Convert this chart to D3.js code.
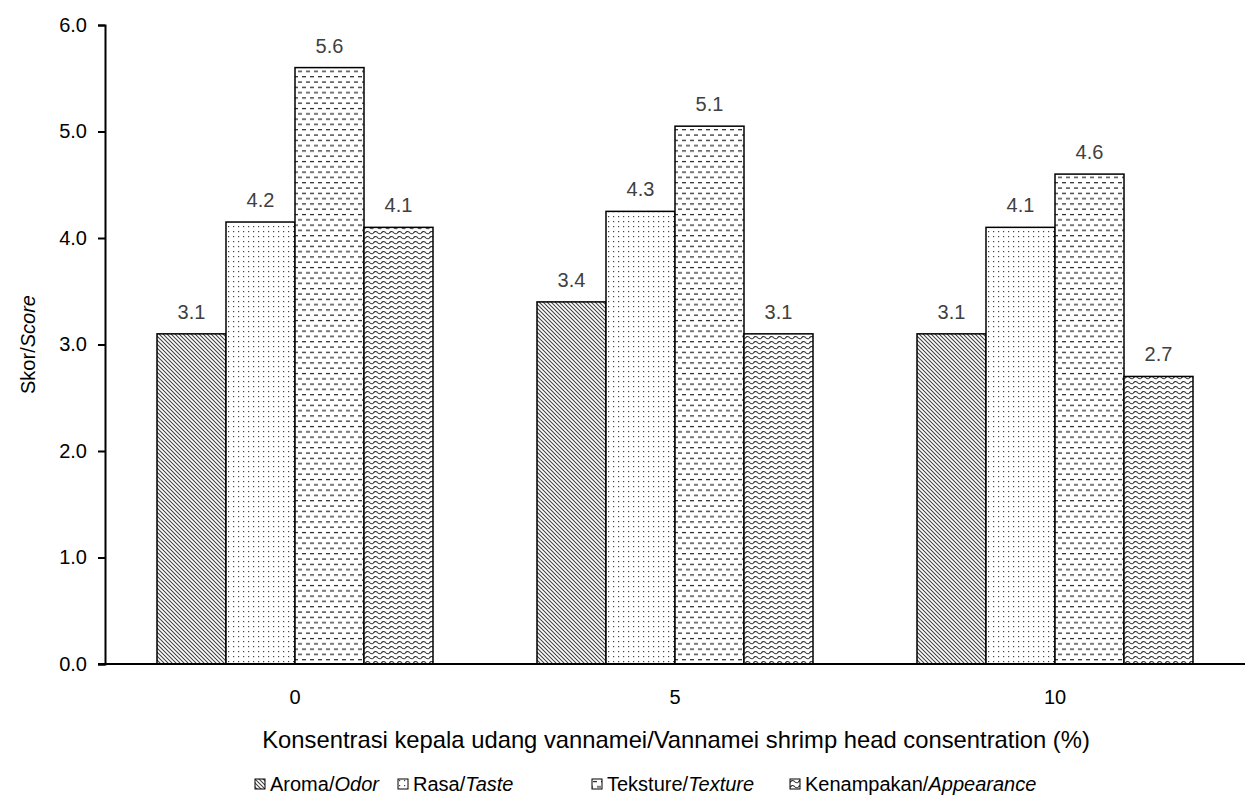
<!DOCTYPE html>
<html><head><meta charset="utf-8">
<script src="https://cdn.jsdelivr.net/npm/d3@7"></script>
<style>
body{margin:0;background:#fff;}
text{font-family:"Liberation Sans",Arial,sans-serif;}
</style></head>
<body><svg id="c" width="1248" height="795"></svg>
<script>
const categories = ["0","5","10"];
const seriesNames = ["Aroma","Rasa","Teksture","Kenampakan"];
const seriesItalic = ["Odor","Taste","Texture","Appearance"];
const aroma = [3.1, 3.4, 3.1];
const rasa = [4.15, 4.25, 4.1];
const tekstur = [5.6, 5.05, 4.6];
const kenampakan = [4.1, 3.1, 2.7];
const yTicks = [0,1,2,3,4,5,6];
const seriesValues = [aroma, rasa, tekstur, kenampakan];

(function(){
const svg = d3.select("#c");
const defs = svg.append("defs");
const FS = 20;

const p1 = defs.append("pattern").attr("id","p0").attr("patternUnits","userSpaceOnUse").attr("width",4).attr("height",4);
p1.append("rect").attr("width",4).attr("height",4).attr("fill","#fff");
p1.append("path").attr("d","M-1,-1 L5,5 M-1,3 L1,5 M3,-1 L5,1").attr("stroke","#444").attr("stroke-width",1.1);

const p2 = defs.append("pattern").attr("id","p1").attr("patternUnits","userSpaceOnUse").attr("width",5).attr("height",5);
p2.append("rect").attr("width",5).attr("height",5).attr("fill","#fff");
p2.append("rect").attr("x",1).attr("y",1).attr("width",1.2).attr("height",1.2).attr("fill","#444");

const p3 = defs.append("pattern").attr("id","p2").attr("patternUnits","userSpaceOnUse").attr("width",8).attr("height",10.6);
p3.append("rect").attr("width",8).attr("height",10.6).attr("fill","#fff");
p3.append("path").attr("d","M1,2.5 L5,2.5 M5,7.8 L9,7.8 M-3,7.8 L1,7.8").attr("stroke","#222").attr("stroke-width",1.2);

const p4 = defs.append("pattern").attr("id","p3").attr("patternUnits","userSpaceOnUse").attr("width",8).attr("height",5);
p4.append("rect").attr("width",8).attr("height",5).attr("fill","#fff");
p4.append("path").attr("d","M0,3.5 Q2,0.5 4,2 Q6,4.5 8,3.5").attr("fill","none").attr("stroke","#333").attr("stroke-width",1.1);

const mLeft = 105, mRight = 1245, mTop = 25, mBottom = 664;
const y = d3.scaleLinear().domain([0,6]).range([mBottom, mTop]);
const pad = 104/380;
const x0 = d3.scaleBand().domain(categories).range([mLeft,mRight]).paddingInner(pad).paddingOuter(pad/2);
const x1 = d3.scaleBand().domain(d3.range(seriesNames.length)).range([0,x0.bandwidth()]);

const fmt = v => (Math.round(v*10+1e-9)/10).toFixed(1);

categories.forEach((c,ci)=>{
  const g = svg.append("g").attr("transform",`translate(${x0(c)},0)`);
  seriesValues.forEach((vals,si)=>{
    const v = vals[ci];
    g.append("rect").attr("x",x1(si)).attr("y",y(v)).attr("width",x1.bandwidth()).attr("height",y(0)-y(v))
      .attr("fill",`url(#p${si})`).attr("stroke","#000").attr("stroke-width",1.5);
    g.append("text").attr("x",x1(si)+x1.bandwidth()/2).attr("y",y(v)-15).attr("text-anchor","middle")
      .attr("font-size",FS).attr("fill","#404040").text(fmt(v));
  });
});

const yAxis = d3.axisLeft(y).tickValues(yTicks).tickFormat(d3.format(".1f")).tickSize(7).tickSizeOuter(7);
const ya = svg.append("g").attr("transform",`translate(${mLeft},0)`).call(yAxis);
ya.select(".domain").attr("stroke","#000").attr("stroke-width",2);
ya.selectAll(".tick line").attr("stroke","#000").attr("stroke-width",2);
ya.selectAll(".tick text").attr("font-size",FS).attr("fill","#000").attr("x",-18).attr("font-family","Liberation Sans, Arial, sans-serif");

const xAxis = d3.axisBottom(x0).tickSize(0).tickSizeOuter(0);
const xa = svg.append("g").attr("transform",`translate(0,${mBottom})`).call(xAxis);
xa.select(".domain").remove();
svg.append("line").attr("x1",mLeft-7).attr("x2",mRight).attr("y1",mBottom).attr("y2",mBottom).attr("stroke","#000").attr("stroke-width",2);
xa.selectAll(".tick text").attr("font-size",FS).attr("fill","#000").attr("y",26).attr("font-family","Liberation Sans, Arial, sans-serif");

const yt = svg.append("text").attr("transform",`translate(35,${(mTop+mBottom)/2}) rotate(-90)`).attr("text-anchor","middle").attr("font-size",FS);
yt.append("tspan").text("Skor/");
yt.append("tspan").attr("font-style","italic").text("Score");

const xt = svg.append("text").attr("x",676).attr("y",748).attr("text-anchor","middle").attr("font-size",FS)
  .text("Konsentrasi kepala udang vannamei/Vannamei shrimp head consentration (%)");
const w = xt.node().getComputedTextLength();
xt.attr("font-size", FS*828/w);

const legIconX = [255, 398, 592, 790];
seriesNames.forEach((n,i)=>{
  const lg = svg.append("g").attr("transform",`translate(${legIconX[i]},779)`);
  lg.append("rect").attr("x",0).attr("y",0).attr("width",10).attr("height",10).attr("fill",`url(#p${i})`).attr("stroke","#000").attr("stroke-width",1);
  const t = lg.append("text").attr("x",15).attr("y",12).attr("font-size",FS);
  t.append("tspan").text(n+"/");
  t.append("tspan").attr("font-style","italic").text(seriesItalic[i]);
});
})();
</script></body></html>
